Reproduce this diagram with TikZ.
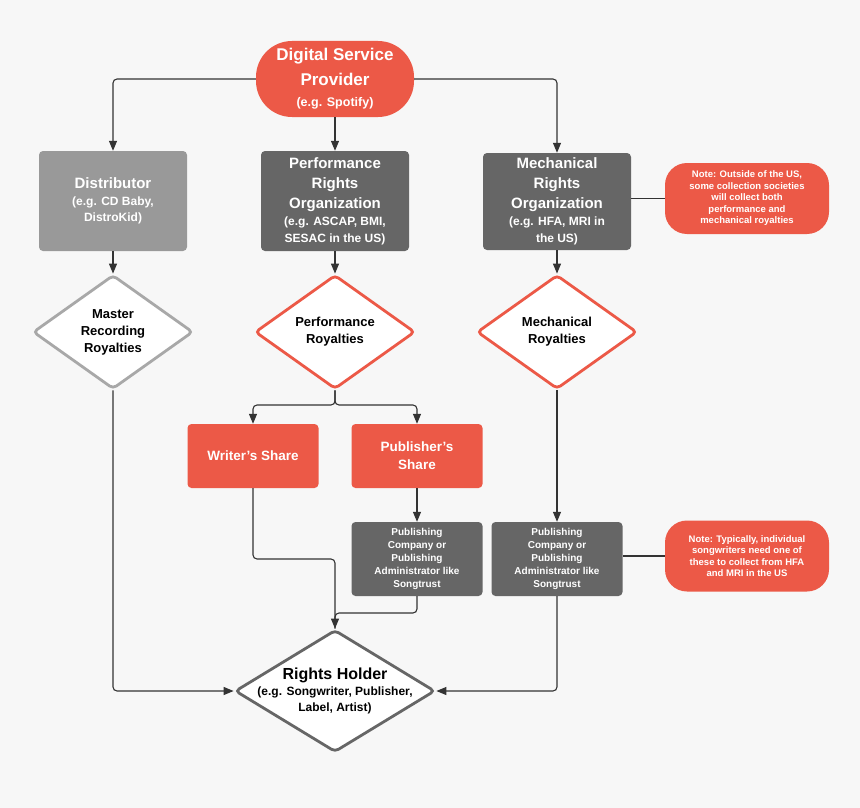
\documentclass[tikz,border=0pt]{standalone}
\usepackage{fontspec}
\setmainfont{Liberation Sans}
\usetikzlibrary{shapes.geometric,arrows.meta}
\definecolor{red1}{HTML}{EC5947}
\definecolor{g1}{HTML}{999999}
\definecolor{g2}{HTML}{666666}
\definecolor{bg}{HTML}{F7F7F7}
\definecolor{ln}{HTML}{333333}
\newcommand{\fz}[2]{\fontsize{#1}{#2}\selectfont}
\begin{document}
\begin{tikzpicture}[x=1pt,y=-1pt,font=\bfseries,
  box/.style={rectangle,rounded corners=4pt,text=white,align=center,inner sep=2pt},
  dia/.style={diamond,draw,line width=2.8pt,fill=white,rounded corners=4pt,inner sep=0pt,minimum width=160pt,minimum height=114pt},
  dtxt/.style={label={[align=center,font=\bfseries\fz{13}{17}]center:#1}},
  con/.style={draw=ln,line width=1.1pt,rounded corners=4pt},
  arr/.style={con,-{Triangle[length=10pt,width=8pt]}},
  note/.style={box,fill=red1,rounded corners=22pt,minimum width=164pt,minimum height=71pt,font=\bfseries\fz{9.5}{11.5}}]
\fill[bg] (0,0) rectangle (860,808);
\node[box,fill=red1,rounded corners=36pt,minimum width=158pt,minimum height=76pt,font=\bfseries\fz{17}{25}] (dsp) at (335,79)
 {Digital Service\\Provider\\[-4pt]\fz{12.5}{20}(e.g. Spotify)};
\node[box,fill=g1,minimum width=148pt,minimum height=100pt,font=\bfseries\fz{15}{20}] (dist) at (113,201)
 {Distributor\\[-3pt]\fz{12}{16}(e.g. CD Baby,\\[-4pt]\fz{12}{15}DistroKid)};
\node[box,fill=g2,minimum width=148pt,minimum height=100pt,font=\bfseries\fz{15}{20}] (pro) at (335,201)
 {Performance\\Rights\\Organization\\[-3pt]\fz{12}{15}(e.g. ASCAP, BMI,\\[-3pt]\fz{12}{15}SESAC in the US)};
\node[box,fill=g2,minimum width=148pt,minimum height=97pt,font=\bfseries\fz{15}{20}] (mro) at (557,201.5)
 {Mechanical\\Rights\\Organization\\[-3pt]\fz{12}{15}(e.g. HFA, MRI in\\[-3pt]\fz{12}{15}the US)};
\node[note] (n1) at (747,198.5) {Note: Outside of the US,\\some collection societies\\will collect both\\performance and\\mechanical royalties};
\node[dia,draw=g1!85,dtxt={Master\\Recording\\Royalties}] (mas) at (113,332) {};
\node[dia,draw=red1,dtxt={Performance\\Royalties}] (perf) at (335,332) {};
\node[dia,draw=red1,dtxt={Mechanical\\Royalties}] (mech) at (557,332) {};
\node[box,fill=red1,minimum width=131pt,minimum height=64pt,font=\bfseries\fz{13.5}{18}] (ws) at (253,456) {Writer's Share};
\node[box,fill=red1,minimum width=131pt,minimum height=64pt,font=\bfseries\fz{13.5}{18}] (ps) at (417,456) {Publisher's\\Share};
\node[box,fill=g2,minimum width=131pt,minimum height=74pt,font=\bfseries\fz{10}{13}] (pc1) at (417,559) {Publishing\\Company or\\Publishing\\Administrator like\\Songtrust};
\node[box,fill=g2,minimum width=131pt,minimum height=74pt,font=\bfseries\fz{10}{13}] (pc2) at (557,559) {Publishing\\Company or\\Publishing\\Administrator like\\Songtrust};
\node[note] (n2) at (747,556) {Note: Typically, individual\\songwriters need one of\\these to collect from HFA\\and MRI in the US};
\node[dia,draw=g2,minimum width=200pt,minimum height=122pt,
  label={[align=center,font=\bfseries\fz{16}{20}]center:Rights Holder\\[-4pt]\fz{12}{16}(e.g. Songwriter, Publisher,\\[-4pt]\fz{12}{15}Label, Artist)}] (rh) at (335,691) {};
\draw[arr] (dsp.west) -| (dist.north);
\draw[arr] (dsp.east) -| (mro.north);
\draw[arr] (dsp.south) -- (pro.north);
\draw[arr] (dist.south) -- (mas.north);
\draw[arr] (pro.south) -- (perf.north);
\draw[arr] (mro.south) -- (mech.north);
\coordinate (sp) at (335,405);
\draw[arr] (perf.south) -- (sp) -| (ws.north);
\draw[arr] (perf.south) -- (sp) -| (ps.north);
\draw[arr] (ps.south) -- (pc1.north);
\draw[arr] (mech.south) -- (pc2.north);
\coordinate (j1) at (253,559);
\coordinate (j2) at (417,613);
\draw[arr] (ws.south) -- (j1) -| (rh.north);
\draw[con] (pc1.south) -- (j2) -| (rh.north);
\draw[arr] (mas.south) |- (rh.west);
\draw[arr] (pc2.south) |- (rh.east);
\draw[con] (n1.west) -- (n1.west -| mro.east);
\draw[con] (n2.west) -- (n2.west -| pc2.east);
\end{tikzpicture}
\end{document}
